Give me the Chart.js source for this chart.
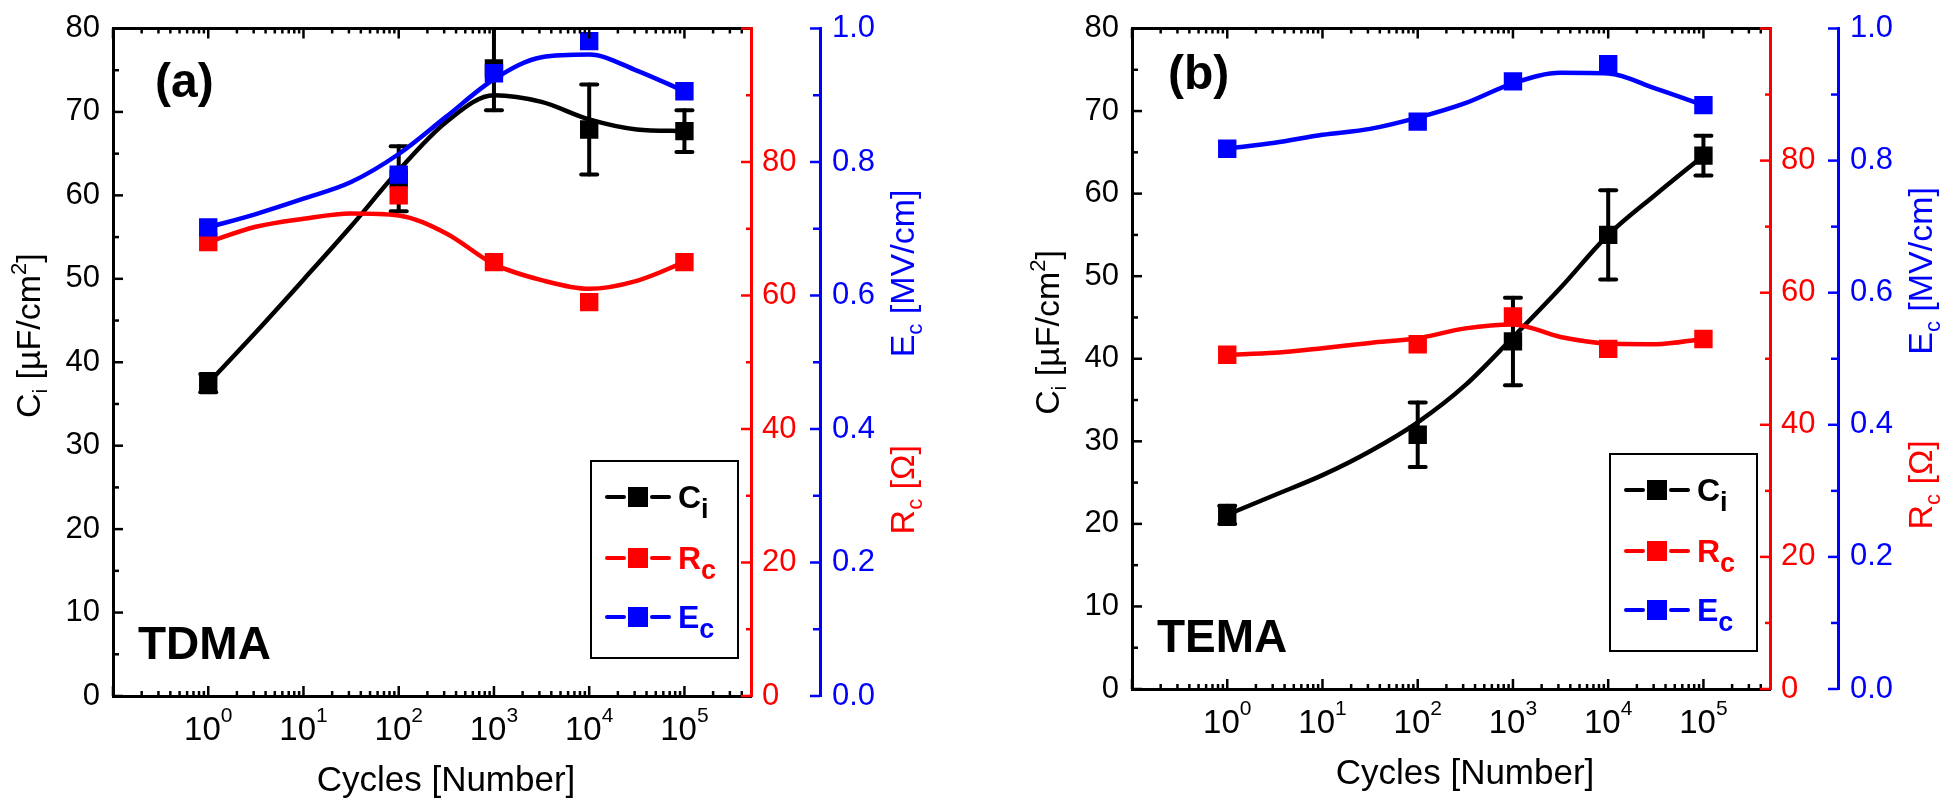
<!DOCTYPE html>
<html>
<head>
<meta charset="utf-8">
<script src="https://cdn.jsdelivr.net/npm/chart.js@4.4.1/dist/chart.umd.min.js"></script>
<style>
  html, body { margin: 0; padding: 0; background: #fff; }
  #wrap { position: relative; width: 1946px; height: 802px; }
  canvas { position: absolute; top: 0; }
</style>
</head>
<body>
<div id="wrap">
  <canvas id="panelA" width="973" height="802" style="left:0px"></canvas>
  <canvas id="panelB" width="973" height="802" style="left:973px"></canvas>
</div>
<script>
// measured points (cycles)
const cycles = [1, 100, 1000, 10000, 100000];
const xTickExps = [0, 1, 2, 3, 4, 5];

// (a) TDMA
const ciA = [37.5, 62.0, 75.2, 67.9, 67.7];
const ciErrA = [1.1, 3.9, 5.0, 5.4, 2.5];
const rcA = [68.0, 75.0, 65.0, 59.0, 65.0];
const ecA = [0.702, 0.781, 0.933, 0.981, 0.906];

// (b) TEMA
const ciB = [21.1, 30.8, 42.1, 55.0, 64.6];
const ciErrB = [1.1, 3.9, 5.3, 5.4, 2.4];
const rcB = [50.6, 52.2, 56.4, 51.5, 53.0];
const ecB = [0.818, 0.859, 0.920, 0.946, 0.884];

// smooth fit curves at half decades
const fitX = [1, 3.16, 10, 31.6, 100, 316, 1000, 3160, 10000, 31600, 100000];
const ciFitA = [37.5, 43.6, 49.9, 56.3, 63.0, 68.8, 72.0, 71.2, 69.1, 67.9, 67.7];
const rcFitA = [68.0, 70.3, 71.5, 72.3, 72.0, 69.3, 64.7, 62.3, 61.0, 62.2, 65.0];
const ecFitA = [0.702, 0.722, 0.745, 0.770, 0.812, 0.868, 0.924, 0.957, 0.961, 0.937, 0.906];
const ciFitB = [21.1, 23.5, 25.9, 28.8, 32.3, 36.8, 42.6, 48.6, 55.0, 59.9, 64.6];
const rcFitB = [50.6, 50.9, 51.6, 52.4, 53.1, 54.6, 55.2, 53.3, 52.3, 52.2, 53.0];
const ecFitB = [0.818, 0.827, 0.839, 0.848, 0.865, 0.887, 0.917, 0.933, 0.932, 0.909, 0.884];

const BLACK = '#000000';
const RED = '#ff0000';
const BLUE = '#0000ff';
const FF = "'Liberation Sans', Arial, sans-serif";

function font(size, bold) {
    return (bold ? 'bold ' : '') + size + 'px ' + FF;
}

function pts(xs, ys) {
    return xs.map((x, i) => ({ x: x, y: ys[i] }));
}

// draws a list of text pieces one after the other (for sub/superscripts)
function drawRich(ctx, parts, x, y, align) {
    let w = 0;
    parts.forEach(p => { ctx.font = p.font; w += ctx.measureText(p.text).width; });
    let cx = align === 'center' ? x - w / 2 : x;
    ctx.textAlign = 'left';
    ctx.textBaseline = 'alphabetic';
    parts.forEach(p => {
        ctx.font = p.font;
        ctx.fillText(p.text, cx, y + (p.dy || 0));
        cx += ctx.measureText(p.text).width;
    });
}

function line(ctx, x1, y1, x2, y2) {
    ctx.beginPath();
    ctx.moveTo(x1, y1);
    ctx.lineTo(x2, y2);
    ctx.stroke();
}

function decorPlugin(p) {
    return {
        id: 'decor',
        beforeDatasetsDraw(chart) {
            // error bars of C_i
            const ctx = chart.ctx;
            const area = chart.chartArea;
            const xs = chart.scales.x, ys = chart.scales.y;
            ctx.save();
            ctx.beginPath();
            ctx.rect(area.left, area.top, area.right - area.left, area.bottom - area.top);
            ctx.clip();
            ctx.strokeStyle = BLACK;
            ctx.lineWidth = 4;
            ctx.lineCap = 'round';
            cycles.forEach((c, i) => {
                const px = xs.getPixelForValue(c);
                const yt = ys.getPixelForValue(p.ci[i] + p.ciErr[i]);
                const yb = ys.getPixelForValue(p.ci[i] - p.ciErr[i]);
                line(ctx, px, yt, px, yb);
                line(ctx, px - 8, yt, px + 8, yt);
                line(ctx, px - 8, yb, px + 8, yb);
            });
            ctx.restore();
        },
        afterDraw(chart) {
            const ctx = chart.ctx;
            const area = chart.chartArea;
            const xs = chart.scales.x, ys = chart.scales.y;
            const rs = chart.scales.yR, bs = chart.scales.yB;
            const h = area.bottom - area.top;
            ctx.save();

            // top frame line
            ctx.strokeStyle = BLACK;
            ctx.lineWidth = 3;
            line(ctx, area.left, area.top, area.right, area.top);

            // inward ticks, x (bottom and top)
            ctx.lineWidth = 2.5;
            for (let d = -1; d <= 5; d++) {
                for (let k = 1; k <= 9; k++) {
                    const v = k * Math.pow(10, d);
                    if (v < xs.min * 0.999 || v > xs.max * 0.999) continue;
                    const px = xs.getPixelForValue(v);
                    const len = k === 1 ? 10 : 5;
                    line(ctx, px, area.bottom, px, area.bottom - len);
                    line(ctx, px, area.top, px, area.top + len);
                }
            }
            // left axis ticks
            for (let v = 0; v <= 80; v += 5) {
                const py = ys.getPixelForValue(v);
                line(ctx, area.left, py, area.left + (v % 10 === 0 ? 10 : 6), py);
            }
            // red axis ticks
            ctx.strokeStyle = RED;
            for (let v = 0; v <= 100; v += 10) {
                const py = rs.getPixelForValue(v);
                line(ctx, area.right - (v % 20 === 0 ? 10 : 5), py, area.right, py);
            }
            // blue axis ticks
            ctx.strokeStyle = BLUE;
            for (let i = 0; i <= 10; i++) {
                const py = bs.getPixelForValue(i / 10);
                line(ctx, bs.left - (i % 2 === 0 ? 10 : 7), py, bs.left, py);
            }

            // x tick labels 10^n
            ctx.fillStyle = BLACK;
            xTickExps.forEach(e => {
                const px = xs.getPixelForValue(Math.pow(10, e));
                drawRich(ctx, [
                    { text: '10', font: font(33) },
                    { text: String(e), font: font(21), dy: -18 }
                ], px, area.bottom + 44, 'center');
            });

            // x title
            drawRich(ctx, [{ text: 'Cycles [Number]', font: font(35) }],
                (area.left + area.right) / 2 + 14, area.bottom + 95, 'center');

            // left title
            ctx.save();
            ctx.translate(area.left - 73, area.top + 0.46 * h);
            ctx.rotate(-Math.PI / 2);
            drawRich(ctx, [
                { text: 'C', font: font(34) },
                { text: 'i', font: font(20), dy: 7 },
                { text: ' [\u00b5F/cm', font: font(34) },
                { text: '2', font: font(22), dy: -14 },
                { text: ']', font: font(34) }
            ], 0, 0, 'center');
            ctx.restore();

            // right titles (both next to the blue axis)
            ctx.save();
            ctx.translate(bs.left + 94, area.top + 0.367 * h);
            ctx.rotate(-Math.PI / 2);
            ctx.fillStyle = BLUE;
            drawRich(ctx, [
                { text: 'E', font: font(34) },
                { text: 'c', font: font(22), dy: 8 },
                { text: ' [MV/cm]', font: font(34) }
            ], 0, 0, 'center');
            ctx.restore();

            ctx.save();
            ctx.translate(bs.left + 94, area.top + 0.691 * h);
            ctx.rotate(-Math.PI / 2);
            ctx.fillStyle = RED;
            drawRich(ctx, [
                { text: 'R', font: font(34) },
                { text: 'c', font: font(22), dy: 8 },
                { text: ' [\u03a9]', font: font(34) }
            ], 0, 0, 'center');
            ctx.restore();

            // panel tag and material name
            ctx.fillStyle = BLACK;
            drawRich(ctx, [{ text: p.tag, font: font(48, true) }], p.tagX, p.tagY, 'left');
            drawRich(ctx, [{ text: p.name, font: font(46, true) }], area.left + 25, area.bottom - 37, 'left');

            // legend
            const bx = area.right - 160, by = area.bottom - 235;
            ctx.strokeStyle = BLACK;
            ctx.lineWidth = 2;
            ctx.strokeRect(bx, by, 147, 197);
            const rows = [
                { color: BLACK, main: 'C', sub: 'i', off: 36 },
                { color: RED, main: 'R', sub: 'c', off: 97 },
                { color: BLUE, main: 'E', sub: 'c', off: 156 }
            ];
            rows.forEach(r => {
                const ry = by + r.off;
                const lx = bx + 16;
                ctx.strokeStyle = r.color;
                ctx.fillStyle = r.color;
                ctx.lineWidth = 4;
                ctx.lineCap = 'round';
                line(ctx, lx, ry, lx + 17, ry);
                line(ctx, lx + 45, ry, lx + 62, ry);
                ctx.fillRect(lx + 21, ry - 10, 20, 20);
                drawRich(ctx, [
                    { text: r.main, font: font(32, true) },
                    { text: r.sub, font: font(27, true), dy: 10 }
                ], bx + 87, ry + 11, 'left');
            });

            ctx.restore();
        }
    };
}

function makeChart(id, p) {
    const tickFont = { family: FF, size: 31, lineHeight: 1 };
    const ctx = document.getElementById(id).getContext('2d');
    return new Chart(ctx, {
        type: 'line',
        data: {
            datasets: [
                {
                    label: 'Ec', data: pts(cycles, p.ec), yAxisID: 'yB', showLine: false,
                    pointStyle: 'rect', pointRadius: 13, pointBorderWidth: 0,
                    pointBackgroundColor: BLUE, pointBorderColor: BLUE, order: 0
                },
                {
                    label: 'Ec fit', data: pts(fitX, p.ecFit), yAxisID: 'yB',
                    borderColor: BLUE, borderWidth: 4.5, pointRadius: 0,
                    cubicInterpolationMode: 'monotone', fill: false, order: 1
                },
                {
                    label: 'Rc', data: pts(cycles, p.rc), yAxisID: 'yR', showLine: false,
                    pointStyle: 'rect', pointRadius: 13, pointBorderWidth: 0,
                    pointBackgroundColor: RED, pointBorderColor: RED, order: 2
                },
                {
                    label: 'Rc fit', data: pts(fitX, p.rcFit), yAxisID: 'yR',
                    borderColor: RED, borderWidth: 4.5, pointRadius: 0,
                    cubicInterpolationMode: 'monotone', fill: false, order: 3
                },
                {
                    label: 'Ci', data: pts(cycles, p.ci), yAxisID: 'y', showLine: false,
                    pointStyle: 'rect', pointRadius: 13, pointBorderWidth: 0,
                    pointBackgroundColor: BLACK, pointBorderColor: BLACK, order: 4
                },
                {
                    label: 'Ci fit', data: pts(fitX, p.ciFit), yAxisID: 'y',
                    borderColor: BLACK, borderWidth: 4.5, pointRadius: 0,
                    cubicInterpolationMode: 'monotone', fill: false, order: 5
                }
            ]
        },
        options: {
            responsive: false,
            animation: false,
            devicePixelRatio: 1,
            events: [],
            layout: { padding: { top: p.top, left: 0, right: 0, bottom: 0 } },
            plugins: {
                legend: { display: false },
                tooltip: { enabled: false }
            },
            scales: {
                x: {
                    type: 'logarithmic', position: 'bottom', min: 0.1, max: 5e5,
                    grid: { display: false, drawTicks: false },
                    border: { display: true, color: BLACK, width: 3 },
                    ticks: { display: false },
                    afterFit: s => { s.height = p.bottomH; }
                },
                y: {
                    type: 'linear', position: 'left', min: 0, max: 80,
                    grid: { display: false, drawTicks: false },
                    border: { display: true, color: BLACK, width: 3 },
                    ticks: { stepSize: 10, padding: 13, color: BLACK, font: tickFont },
                    afterFit: s => { s.width = p.leftW; }
                },
                yR: {
                    type: 'linear', position: 'right', weight: 0, min: 0, max: 100,
                    grid: { display: false, drawTicks: false },
                    border: { display: true, color: RED, width: 3 },
                    ticks: {
                        stepSize: 20, padding: 11, color: RED, font: tickFont,
                        callback: v => (v === 100 ? '' : v)
                    },
                    afterFit: s => { s.width = p.redW; }
                },
                yB: {
                    type: 'linear', position: 'right', weight: 1, min: 0, max: 1,
                    grid: { display: false, drawTicks: false },
                    border: { display: true, color: BLUE, width: 3 },
                    ticks: {
                        stepSize: 0.2, padding: 12, color: BLUE, font: tickFont,
                        callback: v => Number(v).toFixed(1)
                    },
                    afterFit: s => { s.width = p.blueW; }
                }
            }
        },
        plugins: [decorPlugin(p)]
    });
}

makeChart('panelA', {
    ci: ciA, ciErr: ciErrA, rc: rcA, ec: ecA,
    ciFit: ciFitA, rcFit: rcFitA, ecFit: ecFitA,
    tag: '(a)', tagX: 155, tagY: 97, name: 'TDMA',
    top: 25, bottomH: 106, leftW: 113, redW: 69, blueW: 153
});

makeChart('panelB', {
    ci: ciB, ciErr: ciErrB, rc: rcB, ec: ecB,
    ciFit: ciFitB, rcFit: rcFitB, ecFit: ecFitB,
    tag: '(b)', tagX: 195, tagY: 89, name: 'TEMA',
    top: 17, bottomH: 113, leftW: 159, redW: 68, blueW: 108
});
</script>
</body>
</html>
